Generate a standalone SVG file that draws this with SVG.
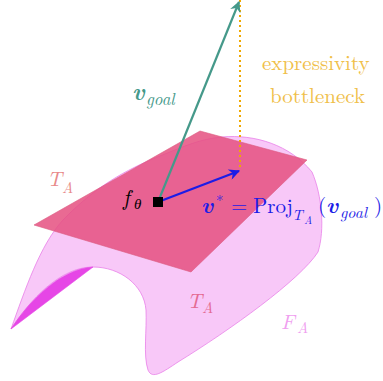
<svg xmlns="http://www.w3.org/2000/svg" width="383" height="381" viewBox="0 0 383 381">
<defs>
<marker id="ahT" viewBox="0 0 10 10" refX="9" refY="5" markerWidth="5.5" markerHeight="5" orient="auto" markerUnits="strokeWidth">
<path d="M0,0 L10,5 L0,10 L3,5 Z" fill="#45998a"/>
</marker>
<marker id="ahB" viewBox="0 0 10 10" refX="9" refY="5" markerWidth="5.5" markerHeight="5" orient="auto" markerUnits="strokeWidth">
<path d="M0,0 L10,5 L0,10 L3,5 Z" fill="#1c1ce6"/>
</marker>
</defs>
<rect width="383" height="381" fill="#ffffff"/>
<g id="surface">
<path d="M11,329 C25,290 40,245 63,220 C95,187 125,170 160,156 C185,146 200,139 222,137 C255,134 290,145 312,172 C322,195 325,230 318,252 C300,280 230,330 178,362 C163,372 152,380 148,370 C143,355 147,330 146,310 C144,285 120,267 93,267 C60,267 30,300 11,329 Z" fill="#f8c8f8" stroke="#e880e8" stroke-width="0.8"/>
<path d="M11,329 C30,300 60,269 93,267 L11,329 Z" fill="#e646e6" stroke="#e646e6" stroke-width="0.6"/>
</g>
<g id="plane">
<polygon points="34,225 200,131 307,160 191,272" fill="#e55080" fill-opacity="0.85" stroke="#dc5a80" stroke-width="0.6"/>
</g>
<g id="connectors">
<line x1="240" y1="0" x2="240" y2="168" stroke="#f0a800" stroke-width="2" stroke-dasharray="2 3"/>
<line x1="158" y1="202" x2="239" y2="2" stroke="#45998a" stroke-width="2.2" marker-end="url(#ahT)"/>
<line x1="158" y1="202" x2="239" y2="171" stroke="#1c1ce6" stroke-width="2.2" marker-end="url(#ahB)"/>
</g>
<g id="f-theta" font-family="Latin Modern Roman, CMU Serif, STIX, Liberation Serif, serif" font-style="italic" fill="#000">
<rect x="153" y="197" width="10" height="10" fill="#000000"/>
<text x="123" y="205" font-size="22">f</text>
<text x="134" y="209" font-size="15">θ</text>
</g>
<g id="v-goal-label" fill="#45998a" font-family="Latin Modern Roman, CMU Serif, STIX, Liberation Serif, serif" font-style="italic">
<text x="132" y="100" font-size="24" font-weight="bold">v</text>
<text x="146" y="105" font-size="17">goal</text>
</g>
<g id="bottleneck-label" fill="#f0c04a" font-family="Latin Modern Roman, CMU Serif, STIX, Liberation Serif, serif">
<text x="262" y="70" font-size="21">expressivity</text>
<text x="270" y="103" font-size="21">bottleneck</text>
</g>
<g id="proj-label" fill="#1c1ce6" font-family="Latin Modern Roman, CMU Serif, STIX, Liberation Serif, serif">
<text x="201" y="213" font-size="23" font-style="italic" font-weight="bold">v</text>
<text x="216" y="206" font-size="15">*</text>
<text x="231" y="213" font-size="21">=</text>
<text x="253" y="213" font-size="21">Proj</text>
<text x="292" y="220" font-size="15" font-style="italic">T</text>
<text x="304" y="224" font-size="11" font-style="italic">A</text>
<text x="318" y="213" font-size="21">(</text>
<text x="326" y="213" font-size="23" font-style="italic" font-weight="bold">v</text>
<text x="340" y="218" font-size="16" font-style="italic">goal</text>
<text x="374" y="213" font-size="21">)</text>
</g>
<g id="tangent-label-left" fill="#e88a8a" font-family="Latin Modern Roman, CMU Serif, STIX, Liberation Serif, serif" font-style="italic">
<text x="47" y="186" font-size="21">T</text>
<text x="62" y="193" font-size="15">A</text>
</g>
<g id="tangent-label-low" fill="#e46a92" font-family="Latin Modern Roman, CMU Serif, STIX, Liberation Serif, serif" font-style="italic">
<text x="187" y="308" font-size="21">T</text>
<text x="202" y="313" font-size="15">A</text>
</g>
<g id="function-space-label" fill="#f0a0f0" font-family="Latin Modern Roman, CMU Serif, STIX, Liberation Serif, serif" font-style="italic">
<text x="281" y="329" font-size="21">F</text>
<text x="297" y="333" font-size="15">A</text>
</g>
</svg>
